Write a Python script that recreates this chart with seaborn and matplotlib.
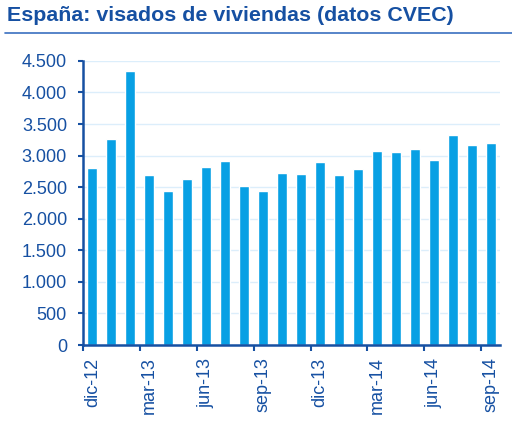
import matplotlib
matplotlib.use("Agg")
import matplotlib.pyplot as plt
import seaborn as sns
import pandas as pd
from matplotlib.ticker import FuncFormatter

# monthly housing permits (CVEC), dic-12 .. sep-14
months = ["dic-12", "ene-13", "feb-13", "mar-13", "abr-13", "may-13", "jun-13",
          "jul-13", "ago-13", "sep-13", "oct-13", "nov-13", "dic-13", "ene-14",
          "feb-14", "mar-14", "abr-14", "may-14", "jun-14", "jul-14", "ago-14",
          "sep-14"]
visados = [2800, 3260, 4340, 2700, 2435, 2630, 2815, 2920, 2520, 2445, 2720, 2710,
           2900, 2690, 2785, 3080, 3065, 3100, 2930, 3330, 3170, 3205]
yticks = [0, 500, 1000, 1500, 2000, 2500, 3000, 3500, 4000, 4500]

df = pd.DataFrame({"mes": months, "visados": visados})

dark = "#1650A2"
barcol = "#08A0E4"

sns.set_style("white")
plt.rcParams["font.family"] = ["Liberation Sans", "DejaVu Sans"]

fig = plt.figure(figsize=(5.12, 4.26), dpi=100)
ax = fig.add_axes([0.162, 0.190, 0.815, 0.667])

sns.barplot(data=df, x="mes", y="visados", color=barcol, width=0.52,
            saturation=1, ax=ax, zorder=2)

ax.set_ylim(0, 4500)
ax.set_xlim(-0.5, len(months) - 0.5)
ax.set_yticks(yticks)
ax.yaxis.set_major_formatter(FuncFormatter(lambda v, p: f"{int(v):,}".replace(",", ".")))
ax.grid(axis="y", color="#DCEEFB", linewidth=1, zorder=0)

# labels every 3 months, tick marks at category boundaries
pos = list(range(0, len(months), 3))
ax.set_xticks(pos)
ax.set_xticklabels([months[i] for i in pos], rotation=90)
ax.set_xticks([i - 0.5 for i in pos], minor=True)
ax.tick_params(axis="x", which="major", bottom=True, length=0, pad=9, colors=dark,
               labelsize=13)
ax.tick_params(axis="x", which="minor", bottom=True, length=4, width=1.5, color=dark,
               direction="out")
ax.tick_params(axis="y", left=True, length=3.5, width=1.5, color=dark, labelcolor=dark,
               labelsize=13, direction="out", pad=8)
ax.set_xlabel("")
ax.set_ylabel("")

for s in ["top", "right"]:
    ax.spines[s].set_visible(False)
for s in ["left", "bottom"]:
    ax.spines[s].set_color(dark)
    ax.spines[s].set_linewidth(1.8)
    ax.spines[s].set_zorder(4)

fig.text(0.013, 0.951, "España: visados de viviendas (datos CVEC)", color=dark,
         fontsize=15.4, fontweight="bold", va="baseline", ha="left")
fig.add_artist(plt.Line2D([0.01, 1.0], [0.922, 0.922], color="#3A6FC0", linewidth=1.2))

fig.savefig("out.png", dpi=100)
